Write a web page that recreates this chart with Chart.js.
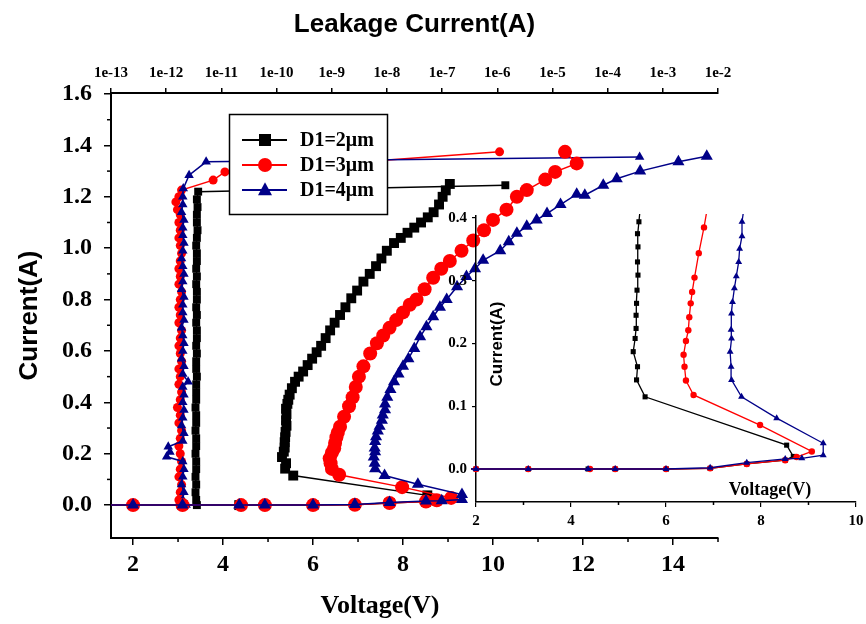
<!DOCTYPE html>
<html><head><meta charset="utf-8">
<script src="https://cdn.jsdelivr.net/npm/chart.js@4.4.0/dist/chart.umd.min.js"></script>
<style>
html,body{margin:0;padding:0;background:#fff;overflow:hidden}
#wrap{position:relative;width:866px;height:624px}
#wrap canvas{position:absolute;left:0;top:0}
</style></head><body>
<div id="wrap"><canvas id="main" width="866" height="624"></canvas><canvas id="inset" width="866" height="624"></canvas></div>
<script>
// ---------- I-V curves (Voltage V, Current A) ----------
const blackV = [0, 2.0, 3.1, 4.36, 4.93, 6.01, 6.93, 7.70, 8.51, 8.68, 8.54, 5.56, 5.38, 5.40, 5.31, 5.35, 5.37, 5.37, 5.38, 5.39, 5.41, 5.40, 5.41, 5.40, 5.43, 5.45, 5.48, 5.53, 5.60, 5.68, 5.78, 5.88, 5.98, 6.08, 6.18, 6.28, 6.38, 6.48, 6.60, 6.72, 6.85, 6.98, 7.12, 7.26, 7.40, 7.52, 7.64, 7.80, 7.95, 8.10, 8.25, 8.40, 8.55, 8.68, 8.80, 8.88, 8.95, 9.04];
const blackI = [0, 0, 0, 0, 0, 0, 0.001, 0.008, 0.014, 0.020, 0.038, 0.115, 0.142, 0.163, 0.187, 0.208, 0.224, 0.245, 0.264, 0.285, 0.309, 0.330, 0.354, 0.375, 0.394, 0.41, 0.43, 0.455, 0.48, 0.50, 0.52, 0.545, 0.57, 0.595, 0.62, 0.65, 0.68, 0.71, 0.74, 0.77, 0.805, 0.835, 0.87, 0.90, 0.93, 0.96, 0.99, 1.02, 1.04, 1.06, 1.08, 1.10, 1.12, 1.14, 1.17, 1.20, 1.225, 1.25];

const redV = [0, 2.0, 3.1, 4.4, 4.93, 6.0, 6.93, 7.70, 8.51, 8.75, 9.07, 7.98, 6.58, 6.42, 6.39, 6.37, 6.42, 6.47, 6.49, 6.52, 6.55, 6.60, 6.69, 6.80, 6.88, 6.95, 7.02, 7.12, 7.27, 7.42, 7.56, 7.70, 7.85, 8.00, 8.15, 8.30, 8.48, 8.67, 8.85, 9.04, 9.30, 9.56, 9.80, 10.0, 10.3, 10.53, 10.75, 11.16, 11.38, 11.86, 11.6];
const redI = [0, 0, 0, 0, 0, 0, 0.001, 0.008, 0.014, 0.019, 0.028, 0.070, 0.118, 0.141, 0.163, 0.182, 0.204, 0.221, 0.242, 0.264, 0.282, 0.305, 0.344, 0.385, 0.42, 0.46, 0.50, 0.54, 0.59, 0.63, 0.66, 0.69, 0.72, 0.75, 0.78, 0.80, 0.84, 0.885, 0.92, 0.95, 0.99, 1.03, 1.07, 1.11, 1.15, 1.20, 1.226, 1.267, 1.297, 1.33, 1.375];

const blueV = [0, 2.0, 3.1, 4.36, 4.93, 6.0, 6.93, 7.70, 8.51, 8.86, 9.31, 9.31, 8.33, 7.59, 7.38, 7.37, 7.35, 7.38, 7.37, 7.38, 7.40, 7.44, 7.48, 7.53, 7.55, 7.60, 7.60, 7.65, 7.72, 7.80, 7.90, 8.00, 8.12, 8.25, 8.38, 8.52, 8.67, 8.82, 8.97, 9.2, 9.41, 9.6, 9.78, 10.16, 10.35, 10.53, 10.75, 10.97, 11.2, 11.5, 11.86, 12.04, 12.45, 12.75, 13.27, 14.12, 14.75];
const blueI = [0, 0, 0, 0, 0, 0, 0.002, 0.010, 0.016, 0.017, 0.022, 0.041, 0.081, 0.115, 0.142, 0.163, 0.187, 0.208, 0.222, 0.248, 0.266, 0.288, 0.307, 0.330, 0.351, 0.371, 0.394, 0.42, 0.45, 0.48, 0.51, 0.54, 0.57, 0.61, 0.655, 0.694, 0.733, 0.77, 0.80, 0.85, 0.89, 0.92, 0.953, 0.99, 1.025, 1.058, 1.085, 1.11, 1.135, 1.17, 1.21, 1.206, 1.245, 1.27, 1.30, 1.336, 1.358];

// ---------- Leakage curves (Leakage current A on top log axis, Current A) ----------
const blackLeakI = [0, 0.02, 0.05, 0.08, 0.11, 0.14, 0.17, 0.20, 0.23, 0.26,
  0.29, 0.32, 0.35, 0.38, 0.41, 0.44, 0.47, 0.50, 0.53, 0.56,
  0.59, 0.62, 0.65, 0.68, 0.71, 0.74, 0.77, 0.80, 0.83, 0.86,
  0.89, 0.92, 0.95, 0.98, 1.01, 1.04, 1.07, 1.10, 1.13, 1.16,
  1.19, 1.22, 1.245];
const blackLeakA = [3.6e-12, 3.5e-12, 3.4e-12, 3.5e-12, 3.4e-12, 3.5e-12, 3.5e-12, 3.4e-12, 3.5e-12, 3.5e-12,
  3.4e-12, 3.5e-12, 3.5e-12, 3.4e-12, 3.5e-12, 3.5e-12, 3.5e-12, 3.6e-12, 3.5e-12, 3.5e-12,
  3.6e-12, 3.5e-12, 3.6e-12, 3.6e-12, 3.5e-12, 3.6e-12, 3.5e-12, 3.6e-12, 3.6e-12, 3.5e-12,
  3.6e-12, 3.5e-12, 3.6e-12, 3.6e-12, 3.5e-12, 3.6e-12, 3.7e-12, 3.6e-12, 3.6e-12, 3.7e-12,
  3.6e-12, 3.8e-12, 1.4e-6];

const redLeakI = [0, 0.02, 0.05, 0.08, 0.11, 0.14, 0.17, 0.20, 0.23, 0.26,
  0.29, 0.32, 0.35, 0.38, 0.41, 0.44, 0.47, 0.50, 0.53, 0.56,
  0.59, 0.62, 0.65, 0.68, 0.71, 0.74, 0.77, 0.80, 0.83, 0.86,
  0.89, 0.92, 0.95, 0.98, 1.01, 1.04, 1.07, 1.10, 1.13, 1.15,
  1.18, 1.20, 1.226, 1.265, 1.297, 1.375];
const redLeakA = [1.8e-12, 1.7e-12, 1.8e-12, 1.9e-12, 1.7e-12, 1.8e-12, 1.9e-12, 1.8e-12, 1.7e-12, 1.8e-12,
  1.9e-12, 1.7e-12, 1.8e-12, 1.6e-12, 1.8e-12, 1.9e-12, 1.7e-12, 1.8e-12, 1.7e-12, 1.9e-12,
  1.8e-12, 1.7e-12, 1.8e-12, 1.9e-12, 1.7e-12, 1.8e-12, 1.7e-12, 1.8e-12, 1.9e-12, 1.7e-12,
  1.8e-12, 1.7e-12, 1.8e-12, 1.9e-12, 1.8e-12, 1.7e-12, 1.8e-12, 1.7e-12, 1.8e-12, 1.6e-12,
  1.5e-12, 1.7e-12, 1.9e-12, 7.1e-12, 1.16e-11, 1.1e-6];

const blueLeakI = [0, 0.02, 0.05, 0.08, 0.11, 0.14, 0.17, 0.188, 0.207, 0.227,
  0.25, 0.28, 0.31, 0.34, 0.37, 0.40, 0.43, 0.46, 0.48, 0.51,
  0.54, 0.57, 0.60, 0.63, 0.66, 0.69, 0.72, 0.75, 0.78, 0.81,
  0.84, 0.87, 0.90, 0.93, 0.96, 0.99, 1.02, 1.05, 1.08, 1.11,
  1.14, 1.17, 1.20, 1.232, 1.284, 1.336, 1.355];
const blueLeakA = [2.3e-12, 2.0e-12, 2.1e-12, 1.9e-12, 2.0e-12, 2.1e-12, 2.0e-12, 1.02e-12, 1.17e-12, 1.09e-12,
  2.0e-12, 2.1e-12, 1.9e-12, 2.0e-12, 2.1e-12, 2.0e-12, 2.1e-12, 2.0e-12, 2.5e-12, 2.0e-12,
  2.1e-12, 1.9e-12, 2.0e-12, 2.1e-12, 2.0e-12, 1.9e-12, 2.1e-12, 2.0e-12, 2.0e-12, 2.1e-12,
  1.9e-12, 2.0e-12, 2.1e-12, 2.0e-12, 1.9e-12, 2.0e-12, 2.1e-12, 2.0e-12, 2.0e-12, 2.1e-12,
  1.9e-12, 2.0e-12, 2.0e-12, 2.04e-12, 2.6e-12, 5.3e-12, 3.8e-4];

// ---------- Ticks & labels ----------
const seriesLabels = ['D1=2μm', 'D1=3μm', 'D1=4μm'];
const voltTicks = [2, 4, 6, 8, 10, 12, 14];
const voltMinor = [3, 5, 7, 9, 11, 13, 15];
const currTicks = [0, 0.2, 0.4, 0.6, 0.8, 1.0, 1.2, 1.4, 1.6];
const currMinor = [0.1, 0.3, 0.5, 0.7, 0.9, 1.1, 1.3, 1.5];
const leakTicks = [1e-13, 1e-12, 1e-11, 1e-10, 1e-9, 1e-8, 1e-7, 1e-6, 1e-5, 1e-4, 1e-3, 1e-2];
const insetVoltTicks = [2, 4, 6, 8, 10];
const insetVoltMinor = [3, 5, 7, 9];
const insetCurrTicks = [0, 0.1, 0.2, 0.3, 0.4];

const BLACK = '#000000', RED = '#ff0000', BLUE = '#000088';
const SERIF = '"Liberation Serif","Times New Roman",serif';
const SANS = '"Liberation Sans",Arial,sans-serif';

const zip = (xs, ys) => xs.map((x, i) => ({x: x, y: ys[i]}));

function ds(label, pts, color, style, r, order, xID, yID, bw) {
  return {label, data: pts, xAxisID: xID, yAxisID: yID, showLine: true,
    borderColor: color, backgroundColor: color, pointBackgroundColor: color,
    pointBorderColor: color, pointBorderWidth: 0, pointStyle: style,
    pointRadius: r, pointHoverRadius: r, borderWidth: bw, tension: 0, order};
}

function axis(extra) {
  return Object.assign({
    border: {display: true, color: '#000', width: 2},
    grid: {display: true, drawOnChartArea: false, drawTicks: true, tickLength: 7,
      color: '#000', tickColor: '#000', lineWidth: 1.5}
  }, extra);
}

const minorTicks = {
  id: 'minorTicks',
  afterDraw(chart, args, opts) {
    const ctx = chart.ctx;
    ctx.save(); ctx.strokeStyle = '#000'; ctx.lineWidth = 1.5;
    (opts.list || []).forEach(spec => {
      const s = chart.scales[spec.axis];
      spec.values.forEach(v => {
        const p = s.getPixelForValue(v);
        ctx.beginPath();
        if (s.isHorizontal()) { ctx.moveTo(p, s.top); ctx.lineTo(p, s.top + spec.len); }
        else { ctx.moveTo(s.right, p); ctx.lineTo(s.right - spec.len, p); }
        ctx.stroke();
      });
    });
    ctx.restore();
  }
};

const textLabels = {
  id: 'textLabels',
  afterDraw(chart, args, opts) {
    const ctx = chart.ctx;
    (opts.items || []).forEach(t => {
      ctx.save();
      ctx.font = t.font; ctx.fillStyle = '#000';
      ctx.textAlign = 'center'; ctx.textBaseline = 'middle';
      ctx.translate(t.x, t.y);
      if (t.rot) ctx.rotate(t.rot);
      ctx.fillText(t.text, 0, 0);
      ctx.restore();
    });
  }
};

function drawMarker(ctx, style, x, y, r) {
  ctx.beginPath();
  if (style === 'rect') { ctx.rect(x - r, y - r, 2 * r, 2 * r); }
  else if (style === 'circle') { ctx.arc(x, y, r, 0, Math.PI * 2); }
  else { ctx.moveTo(x, y - r * 1.1); ctx.lineTo(x + r, y + r * 0.75); ctx.lineTo(x - r, y + r * 0.75); ctx.closePath(); }
  ctx.fill();
}

const boxLegend = {
  id: 'boxLegend',
  afterDatasetsDraw(chart) {
    const ctx = chart.ctx;
    ctx.save();
    ctx.fillStyle = '#fff'; ctx.fillRect(229, 114, 158, 100);
    ctx.strokeStyle = '#000'; ctx.lineWidth = 1.5; ctx.strokeRect(229.5, 114.5, 158, 100);
    const items = [[BLACK, 'rect', 6], [RED, 'circle', 7], [BLUE, 'tri', 7]];
    items.forEach((it, i) => {
      const y = 140 + i * 25;
      ctx.strokeStyle = it[0]; ctx.lineWidth = 2;
      ctx.beginPath(); ctx.moveTo(242, y); ctx.lineTo(287, y); ctx.stroke();
      ctx.fillStyle = it[0]; drawMarker(ctx, it[1], 265, y, it[2]);
      ctx.fillStyle = '#000'; ctx.font = 'bold 20px ' + SERIF;
      ctx.textAlign = 'left'; ctx.textBaseline = 'middle';
      ctx.fillText(seriesLabels[i], 300, y + 1);
    });
    ctx.restore();
  }
};

// ---------- main chart ----------
new Chart(document.getElementById('main'), {
  type: 'scatter',
  data: {datasets: [
    ds(seriesLabels[2], zip(blueV, blueI), BLUE, 'triangle', 7, 0, 'x', 'y', 1.5),
    ds(seriesLabels[1], zip(redV, redI), RED, 'circle', 7, 1, 'x', 'y', 1.5),
    ds(seriesLabels[0], zip(blackV, blackI), BLACK, 'rect', 7, 2, 'x', 'y', 1.5),
    ds(seriesLabels[2] + ' leak', zip(blueLeakA, blueLeakI), BLUE, 'triangle', 5.5, 3, 'xTop', 'y', 1.5),
    ds(seriesLabels[1] + ' leak', zip(redLeakA, redLeakI), RED, 'circle', 4.5, 4, 'xTop', 'y', 1.5),
    ds(seriesLabels[0] + ' leak', zip(blackLeakA, blackLeakI), BLACK, 'rect', 5.6, 5, 'xTop', 'y', 1.5)
  ]},
  options: {
    responsive: false, animation: false, events: [],
    layout: {padding: {left: 0, right: 148, top: 0, bottom: 0}},
    plugins: {
      legend: {display: false}, tooltip: {enabled: false},
      minorTicks: {list: [{axis: 'x', values: voltMinor, len: 4}, {axis: 'y', values: currMinor, len: 4}]},
      textLabels: {items: [{text: 'Voltage(V)', x: 380, y: 606, font: 'bold 26px ' + SERIF}]}
    },
    scales: {
      x: axis({type: 'linear', position: 'bottom', min: 1.51, max: 15,
        afterFit(s) { s.height = 86; },
        afterBuildTicks(s) { s.ticks = voltTicks.map(v => ({value: v})); },
        ticks: {color: '#000', font: {family: SERIF, size: 24, weight: 'bold'}, padding: 5, maxRotation: 0, autoSkip: false, callback: v => String(v)}}),
      xTop: axis({type: 'logarithmic', position: 'top', min: 1e-13, max: 1e-2,
        afterFit(s) { s.height = 93; },
        afterBuildTicks(s) { s.ticks = leakTicks.map(v => ({value: v})); },
        grid: {display: true, drawOnChartArea: false, drawTicks: true, tickLength: 5, color: '#000', tickColor: '#000', lineWidth: 1.5},
        title: {display: true, text: 'Leakage Current(A)', color: '#000', font: {family: SANS, size: 26, weight: 'bold'}, padding: {top: 9, bottom: 0}},
        ticks: {color: '#000', font: {family: SERIF, size: 15, weight: 'bold'}, padding: 6, maxRotation: 0, autoSkip: false, callback: v => '1e' + Math.round(Math.log10(v))}}),
      y: axis({type: 'linear', position: 'left', min: -0.128, max: 1.604,
        afterFit(s) { s.width = 111; },
        afterBuildTicks(s) { s.ticks = currTicks.map(v => ({value: v})); },
        title: {display: true, text: 'Current(A)', color: '#000', font: {family: SANS, size: 26, weight: 'bold'}, padding: {top: 14, bottom: 0}},
        ticks: {color: '#000', font: {family: SERIF, size: 24, weight: 'bold'}, padding: 12, autoSkip: false, callback: v => Number(v).toFixed(1)}})
    }
  },
  plugins: [minorTicks, textLabels, boxLegend]
});

// ---------- inset chart ----------
new Chart(document.getElementById('inset'), {
  type: 'scatter',
  data: {datasets: [
    ds(seriesLabels[2], zip(blueV, blueI), BLUE, 'triangle', 4, 0, 'x', 'y', 1.3),
    ds(seriesLabels[1], zip(redV, redI), RED, 'circle', 3.2, 1, 'x', 'y', 1.3),
    ds(seriesLabels[0], zip(blackV, blackI), BLACK, 'rect', 3.6, 2, 'x', 'y', 1.3)
  ].map(d => Object.assign(d, {clip: {left: 5, top: 2, right: 8, bottom: 6}}))},
  options: {
    responsive: false, animation: false, events: [],
    layout: {padding: {left: 0, right: 10, top: 216, bottom: 0}},
    plugins: {
      legend: {display: false}, tooltip: {enabled: false},
      minorTicks: {list: [{axis: 'x', values: insetVoltMinor, len: 3}]},
      textLabels: {items: [
        {text: 'Current(A)', x: 497, y: 344, rot: -Math.PI / 2, font: 'bold 17px ' + SANS},
        {text: 'Voltage(V)', x: 770, y: 490, font: 'bold 18px ' + SERIF}
      ]}
    },
    scales: {
      x: axis({type: 'linear', position: 'bottom', min: 2, max: 10,
        afterFit(s) { s.height = 122; s.paddingLeft = 0; s.paddingRight = 0; },
        afterBuildTicks(s) { s.ticks = insetVoltTicks.map(v => ({value: v})); },
        border: {display: true, color: '#000', width: 1.5},
        grid: {display: true, drawOnChartArea: false, drawTicks: true, tickLength: 5, color: '#000', tickColor: '#000', lineWidth: 1.2},
        ticks: {color: '#000', font: {family: SERIF, size: 15, weight: 'bold'}, padding: 5, maxRotation: 0, autoSkip: false, callback: v => String(v)}}),
      y: axis({type: 'linear', position: 'left', min: -0.0526, max: 0.4032,
        afterFit(s) { s.width = 476; },
        afterBuildTicks(s) { s.ticks = insetCurrTicks.map(v => ({value: v})); },
        border: {display: true, color: '#000', width: 1.5},
        grid: {display: true, drawOnChartArea: false, drawTicks: true, tickLength: 4, color: '#000', tickColor: '#000', lineWidth: 1.2},
        ticks: {color: '#000', font: {family: SERIF, size: 15, weight: 'bold'}, padding: 5, autoSkip: false, callback: v => Number(v).toFixed(1)}})
    }
  },
  plugins: [minorTicks, textLabels]
});
</script>
</body></html>
